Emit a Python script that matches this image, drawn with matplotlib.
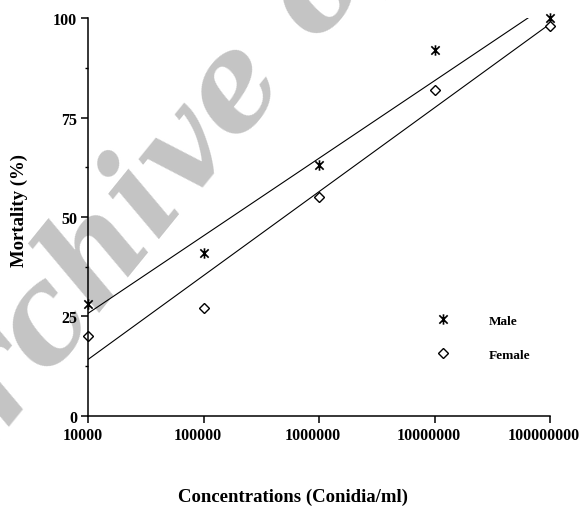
import numpy as np
import matplotlib.pyplot as plt
from matplotlib.path import Path
from matplotlib.transforms import ScaledTranslation

plt.rcParams['font.family'] = ['Liberation Serif', 'DejaVu Serif']
plt.rcParams['font.weight'] = 'bold'

# data
conc = [1e4, 1e5, 1e6, 1e7, 1e8]
male = [28, 41, 63, 92, 100]
female = [20, 27, 55, 82, 98]
xticks = [1e4, 1e5, 1e6, 1e7, 1e8]
xticklabels = ['10000', '100000', '1000000', '10000000', '100000000']
yticks = [0, 25, 50, 75, 100]

# asterisk: vertical bar plus an X
star = Path([(0, -1), (0, 1), (-0.8, -0.8), (0.8, 0.8), (-0.8, 0.8), (0.8, -0.8)],
            [Path.MOVETO, Path.LINETO] * 3)

fig = plt.figure(figsize=(5.8, 5.1), dpi=100)
ax = fig.add_axes([0.1522, 0.1829, 0.796, 0.7792])

# watermark, behind everything
fig.text(-0.095, -0.017, 'Archive of SID', fontsize=94, style='italic',
         weight='bold', family='DejaVu Serif', color='#c4c4c4', rotation=51,
         rotation_mode='anchor', ha='left', va='baseline', zorder=-1)
ax.patch.set_alpha(0)

lx = np.log10(conc)
xs = np.array([1e4, 1e8])
for y in (male, female):
    p = np.polyfit(lx, y, 1)
    ax.plot(xs, np.polyval(p, np.log10(xs)), color='black', lw=0.8)

ax.plot(conc, male, ls='none', marker=star, ms=7.5, mew=1.2,
        color='black', clip_on=False, label='Male')
ax.plot(conc, female, ls='none', marker='D', ms=5.5, mew=1.0,
        mfc='white', mec='black', clip_on=False, label='Female')

ax.set_xscale('log')
ax.set_xlim(1e4, 1e8)
ax.set_ylim(0, 100)
ax.set_xticks(xticks)
ax.set_xticklabels(xticklabels)
ax.xaxis.set_minor_locator(plt.NullLocator())
ax.set_yticks(yticks)
ax.set_yticks([12.5, 37.5, 62.5, 87.5], minor=True)

for s in ('top', 'right'):
    ax.spines[s].set_visible(False)
for s in ('left', 'bottom'):
    ax.spines[s].set_linewidth(1.1)

ax.tick_params(axis='both', which='major', direction='out', length=5,
               width=1.1, labelsize=11.5, pad=3)
ax.tick_params(axis='y', which='minor', direction='out', length=2.5, width=1.0)

shift = ScaledTranslation(-6 / 100, 0, fig.dpi_scale_trans)
for lab in ax.get_xticklabels():
    lab.set_transform(lab.get_transform() + shift)

ax.set_xlabel('Concentrations (Conidia/ml)', fontsize=13.5, fontweight='bold')
ax.xaxis.set_label_coords(0.444, -0.182)
ax.set_ylabel('Mortality (%)', fontsize=13.5, fontweight='bold')
ax.yaxis.set_label_coords(-0.131, 0.518)

ax.legend(loc='upper left', bbox_to_anchor=(0.755, 0.255), frameon=False,
          handlelength=1.0, handletextpad=2.9, labelspacing=1.65,
          borderpad=0, borderaxespad=0, prop={'size': 9.5, 'weight': 'bold'})

fig.savefig('out.png', dpi=100)
